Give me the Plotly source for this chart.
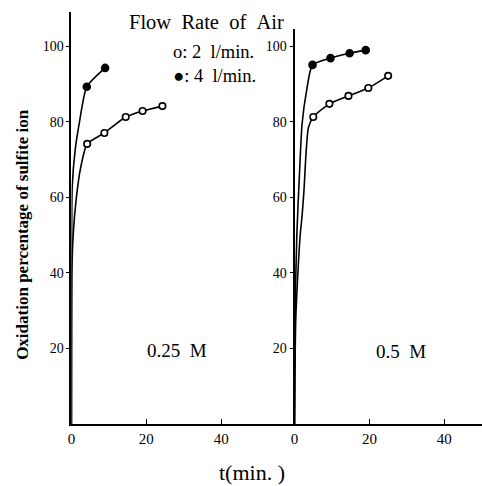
import plotly.graph_objects as go

# ---- data ----
# 0.25 M panel
t_025_2 = [4.2, 8.8, 14.5, 19.0, 24.3]
y_025_2 = [74.1, 77.0, 81.2, 82.8, 84.1]
rise_025_2_t = [0, 0.1, 0.5, 1.25, 2.5]
rise_025_2_y = [0, 40, 50.5, 59.3, 68.0]

t_025_4 = [4.1, 9.0]
y_025_4 = [89.2, 94.2]
rise_025_4_t = [0, 0.05, 0.2, 1.0, 2.1]
rise_025_4_y = [0, 45, 62.7, 72.5, 79.6]

# 0.5 M panel
t_05_2 = [5.0, 9.3, 14.4, 19.7, 25.0]
y_05_2 = [81.2, 84.7, 86.8, 88.9, 92.1]
rise_05_2_t = [0, 0.3, 1.0, 1.5, 2.0, 2.5, 3.1, 3.7]
rise_05_2_y = [0, 27, 42, 50, 55, 61.6, 72.2, 78.4]

t_05_4 = [4.8, 9.6, 14.7, 19.0]
y_05_4 = [95.0, 96.8, 98.1, 98.9]
rise_05_4_t = [0, 0.15, 0.6, 1.3, 2.0, 3.2]
rise_05_4_y = [0, 30, 50, 66, 79.3, 88.1]

x_ticks = [0, 20, 40]
y_ticks = [20, 40, 60, 80, 100]

W, H = 482, 486
SERIF = "Liberation Serif, Times New Roman, serif"


def px(x):
    return x / W


def py(y):
    return 1 - y / H


fig = go.Figure()


def add_series(t, y, rt, ry, xa, ya, filled):
    fig.add_trace(go.Scatter(
        x=rt + t, y=ry + y, mode="lines", xaxis=xa, yaxis=ya,
        line=dict(color="black", width=1.6, shape="spline", smoothing=0.6),
        showlegend=False, hoverinfo="skip"))
    fig.add_trace(go.Scatter(
        x=t, y=y, mode="markers", xaxis=xa, yaxis=ya,
        marker=dict(size=7 if filled else 6.5,
                    color="black" if filled else "white",
                    line=dict(color="black", width=1.6)),
        showlegend=False))


add_series(t_025_2, y_025_2, rise_025_2_t, rise_025_2_y, "x", "y", False)
add_series(t_025_4, y_025_4, rise_025_4_t, rise_025_4_y, "x", "y", True)
add_series(t_05_2, y_05_2, rise_05_2_t, rise_05_2_y, "x2", "y2", False)
add_series(t_05_4, y_05_4, rise_05_4_t, rise_05_4_y, "x2", "y2", True)

xscale = 3.775  # px per minute
yscale = 3.78   # px per percent
x0_left, x0_right, y0 = 68, 293, 424

common_x = dict(showgrid=False, zeroline=False, showline=True, linecolor="black",
                linewidth=2, ticks="inside", ticklen=5, tickwidth=1.2,
                tickcolor="black", tickvals=x_ticks,
                tickfont=dict(family=SERIF, size=15, color="black"))
common_y = dict(showgrid=False, zeroline=False, showline=True, linecolor="black",
                linewidth=2, ticks="outside", ticklen=3, tickwidth=1.2,
                tickcolor="black", tickvals=y_ticks,
                tickfont=dict(family=SERIF, size=14, color="black"))

fig.update_layout(
    width=W, height=H, margin=dict(l=0, r=0, t=0, b=0),
    paper_bgcolor="white", plot_bgcolor="white", showlegend=False,
    xaxis=dict(domain=[px(x0_left), px(x0_right)],
               range=[0, (x0_right - x0_left) / xscale], anchor="y", **common_x),
    xaxis2=dict(domain=[px(x0_right), 1.0],
                range=[0, (W - x0_right) / xscale], anchor="y2", **common_x),
    yaxis=dict(domain=[py(y0), py(12)], range=[0, (y0 - 12) / yscale],
               anchor="x", **common_y),
    yaxis2=dict(domain=[py(y0), py(29)], range=[0, (y0 - 29) / yscale],
                anchor="x2", **common_y),
)

NB = "\u00a0"
ann = [
    dict(text=f"Flow{NB}{NB}Rate{NB}{NB}of{NB}{NB}Air", x=px(204), y=py(22), size=20.5),
    dict(text=f"o:{NB}2{NB}{NB}l/min.", x=px(168), y=py(52), size=18.5, xanchor="left"),
    dict(text=f"●:{NB}4{NB}{NB}l/min.", x=px(168), y=py(76), size=18.5, xanchor="left"),
    dict(text=f"0.25{NB}{NB}M", x=px(174), y=py(350), size=19),
    dict(text=f"0.5{NB}{NB}M", x=px(400), y=py(351), size=19),
    dict(text=f"t(min.{NB})", x=px(250), y=py(472), size=22),
]
for a in ann:
    fig.add_annotation(text=a["text"], x=a["x"], y=a["y"], xref="paper", yref="paper",
                       xanchor=a.get("xanchor", "center"), yanchor="middle",
                       showarrow=False,
                       font=dict(family=SERIF, size=a["size"], color="black"))

fig.add_annotation(text="<b>Oxidation percentage of sulfite ion</b>",
                   x=px(18), y=py(235), xref="paper", yref="paper",
                   xanchor="center", yanchor="middle", textangle=-90,
                   showarrow=False,
                   font=dict(family=SERIF, size=17, color="black"))

fig.write_html("out.html")
